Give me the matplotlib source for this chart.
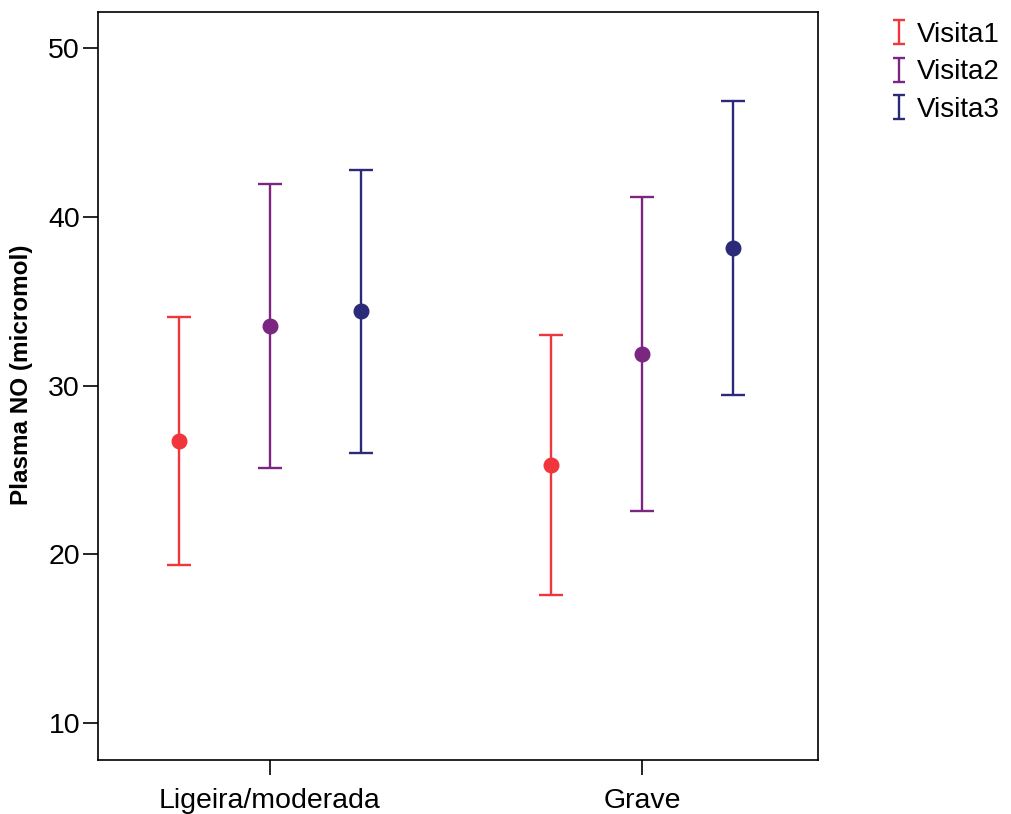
import numpy as np
import matplotlib.pyplot as plt
from matplotlib.lines import Line2D
from matplotlib.path import Path

plt.rcParams['font.family'] = ['Liberation Sans', 'DejaVu Sans']

groups = ["Ligeira/moderada", "Grave"]
visits = ["Visita1", "Visita2", "Visita3"]
colors = ["#F0363C", "#7B2680", "#2A2A78"]

# mean and error limits per visit, one value per group
means = [[26.7, 25.3], [33.55, 31.85], [34.4, 38.15]]
upper = [[34.05, 33.0], [41.95, 41.2], [42.75, 46.85]]
lower = [[19.35, 17.6], [25.1, 22.55], [26.0, 29.45]]

fig = plt.figure(figsize=(10.11, 8.14), dpi=100)
ax = fig.add_axes([0.097, 0.066, 0.712, 0.919])

x = np.arange(len(groups))
offsets = [-0.245, 0.0, 0.245]

for i in range(len(visits)):
    m = np.array(means[i])
    lo = m - np.array(lower[i])
    hi = np.array(upper[i]) - m
    ax.errorbar(x + offsets[i], m, yerr=[lo, hi], fmt='o', color=colors[i],
                ecolor=colors[i], elinewidth=1.7, capsize=8.5, capthick=1.7,
                markersize=10.5)

ax.set_xlim(-0.462, 1.473)
ax.set_ylim(7.8, 52.13)
ax.set_xticks(x)
ax.set_xticklabels(groups, fontsize=20.5)
ax.set_yticks([10, 20, 30, 40, 50])
ax.tick_params(axis='y', labelsize=20.5, length=11, width=1.2, pad=2)
ax.tick_params(axis='x', length=11, width=1.2, pad=9)
for s in ax.spines.values():
    s.set_linewidth(1.2)
ax.set_ylabel("Plasma NO (micromol)", fontsize=17.5, fontweight='bold', va='center')
ax.yaxis.set_label_coords(-0.106, 0.515)

# legend handle drawn as an error-bar "I"
ibar = Path([(-0.5, 1), (0.5, 1), (0, 1), (0, -1), (-0.5, -1), (0.5, -1)],
            [Path.MOVETO, Path.LINETO, Path.MOVETO, Path.LINETO, Path.MOVETO, Path.LINETO])
handles = [Line2D([], [], linestyle='none', marker=ibar, markersize=17,
                  markerfacecolor='none', markeredgecolor=c, markeredgewidth=1.7)
           for c in colors]
fig.legend(handles, visits, loc='upper left', bbox_to_anchor=(0.87, 0.987),
           frameon=False, fontsize=20, handlelength=0.6, handletextpad=0.35,
           labelspacing=0.42, borderaxespad=0)

fig.savefig("out.png", dpi=100)
